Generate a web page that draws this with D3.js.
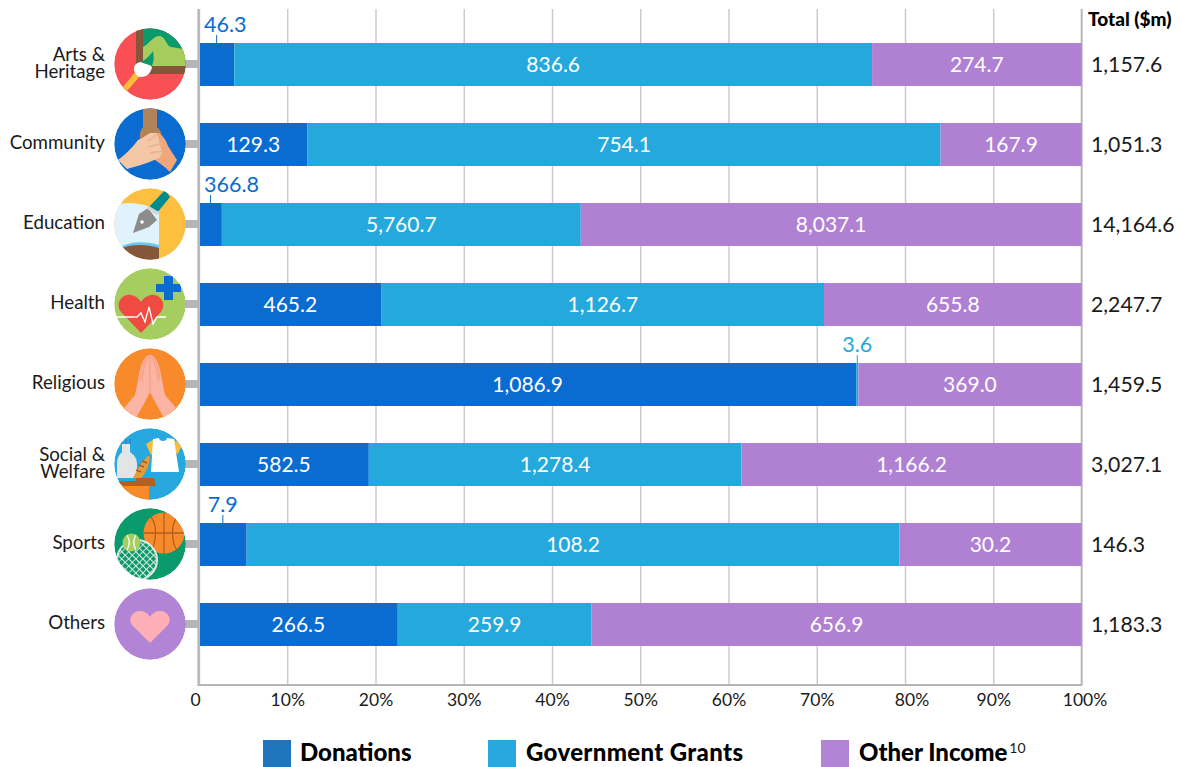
<!DOCTYPE html>
<html><head><meta charset="utf-8">
<script src="https://cdnjs.cloudflare.com/ajax/libs/d3/7.8.5/d3.min.js"></script>
<style>
html,body{margin:0;padding:0;background:#fff}
svg{display:block}
text{font-family:Lato,"Noto Sans",sans-serif}
</style></head><body>
<svg id="c" width="1182" height="767"></svg>
<script>
const categories=["Arts & Heritage","Community","Education","Health","Religious","Social & Welfare","Sports","Others"];
const donations=[46.3,129.3,366.8,465.2,1086.9,582.5,7.9,266.5];
const grants=[836.6,754.1,5760.7,1126.7,3.6,1278.4,108.2,259.9];
const other=[274.7,167.9,8037.1,655.8,369.0,1166.2,30.2,656.9];
const totals=["1,157.6","1,051.3","14,164.6","2,247.7","1,459.5","3,027.1","146.3","1,183.3"];
const seriesNames=["Donations","Government Grants","Other Income"];
const tickValues=[0,.1,.2,.3,.4,.5,.6,.7,.8,.9,1];

const C={don:"#0a6bd1",gov:"#25a8dc",oth:"#b081d2",axis:"#b5b5b5",grid:"#c9c9c9",ink:"#1a1a1a"};
const svg=d3.select("#c");
const x=d3.scaleLinear().domain([0,1]).range([199,1081.5]);
const yBand=d3.scalePoint().domain(categories).range([64.5,624.5]);
const barH=43;
const rows=categories.map((c,i)=>({cat:c,Donations:donations[i],"Government Grants":grants[i],"Other Income":other[i]}));
const stack=d3.stack().keys(seriesNames).offset(d3.stackOffsetExpand)(rows);
const colors=d3.scaleOrdinal().domain(seriesNames).range([C.don,C.gov,C.oth]);
const fmt=d3.format(",.1f");

// grid + axis
const axisG=svg.append("g").attr("transform","translate(0,685)")
 .call(d3.axisBottom(x).tickValues(tickValues).tickSize(676).tickSizeOuter(0)
   .tickFormat(d=>d===0?"0":d3.format(".0%")(d)));
axisG.select(".domain").remove();
axisG.selectAll("line").attr("y2",-676).attr("stroke",C.grid).attr("stroke-width",1.4);
const nudge={0:-4,0.8:6.5,1:3};
axisG.selectAll("text").attr("y",0).attr("dy",0)
 .attr("transform",d=>`translate(${nudge[d]||0},21)`)
 .attr("font-size",17.5).attr("fill",C.ink).style("font-family","Lato");
svg.append("line").attr("x1",x(0)-.5).attr("x2",x(0)-.5).attr("y1",9).attr("y2",686).attr("stroke",C.axis).attr("stroke-width",2.2);
svg.append("line").attr("x1",x(0)-1).attr("x2",x(1)+.5).attr("y1",685).attr("y2",685).attr("stroke",C.axis).attr("stroke-width",2);
svg.append("line").attr("x1",x(1)).attr("x2",x(1)).attr("y1",9).attr("y2",686).attr("stroke",C.axis).attr("stroke-width",1.6);

// connectors
svg.append("g").selectAll("rect").data(categories).join("rect")
 .attr("x",185).attr("width",13).attr("y",d=>yBand(d)-4.5).attr("height",8).attr("fill",C.axis);

// bars
const gS=svg.append("g").selectAll("g").data(stack).join("g").attr("fill",d=>colors(d.key));
gS.selectAll("rect").data(d=>d).join("rect")
 .attr("x",d=>Math.max(x(d[0]),200)).attr("width",d=>x(d[1])-Math.max(x(d[0]),200))
 .attr("y",d=>yBand(d.data.cat)-barH/2).attr("height",barH);

// labels
stack.forEach(s=>{
 s.forEach(d=>{
  const val=d.data[s.key], mid=x((d[0]+d[1])/2), yc=yBand(d.data.cat);
  if(d[1]-d[0]>=0.06){
   svg.append("text").attr("x",mid).attr("y",yc+7.5).attr("text-anchor","middle")
    .attr("font-size",21).attr("fill","#fff").text(fmt(val));
  } else {
   const col=s.key==="Donations"?C.don:C.gov;
   const t=svg.append("text").attr("y",yc-33).attr("text-anchor","middle")
    .attr("font-size",21.5).attr("fill",col).text(fmt(val));
   t.attr("x",mid);
   const w=t.node().getComputedTextLength();
   t.attr("x",Math.max(mid,204+w/2));
   svg.append("line").attr("x1",mid).attr("x2",mid).attr("y1",yc-29.5).attr("y2",yc-21.5)
    .attr("stroke",col).attr("stroke-width",1);
  }
 });
});

// totals
svg.append("text").attr("x",1088).attr("y",26).attr("font-size",19).attr("font-weight",900).attr("fill","#000").text("Total ($m)");
svg.append("g").selectAll("text").data(totals).join("text")
 .attr("x",1091).attr("y",(d,i)=>yBand(categories[i])+7.5).attr("font-size",21.2).attr("fill",C.ink).text(d=>d);

// category labels
categories.forEach(c=>{
 const yc=yBand(c);
 const m=c.match(/^(.*&) (.*)$/);
 const lines=m?[m[1],m[2]]:[c];
 const t=svg.append("text").attr("text-anchor","end").attr("font-size",18.7).attr("fill",C.ink);
 lines.forEach((l,i)=>t.append("tspan").attr("x",105)
   .attr("y",lines.length>1?yc-4+i*17:yc+4).text(l));
});

// legend
const legendX=[263,488,821], legendT=[300,526,859];
seriesNames.forEach((n,i)=>{
 svg.append("rect").attr("x",legendX[i]).attr("y",740).attr("width",28).attr("height",27)
  .attr("fill",["#1f74bd","#27a9e0","#b284d6"][i]);
 const t=svg.append("text").attr("x",legendT[i]).attr("y",761).attr("font-size",24).attr("font-weight",900).attr("fill","#000")
   .style("letter-spacing",i===1?"0.35px":null).text(n);
 if(i===2){
  svg.append("text").attr("x",legendT[i]+t.node().getComputedTextLength()+2).attr("y",753).attr("font-size",14).attr("fill",C.ink).text("10");
 }
});

// ---- decorative icons (local coordinates around the circle centre) ----
const defs=svg.append("defs");
defs.append("clipPath").attr("id","disc").append("circle").attr("r",35.7);
const pat=defs.append("pattern").attr("id","net").attr("width",5).attr("height",5).attr("patternUnits","userSpaceOnUse").attr("patternTransform","rotate(45)");
pat.append("rect").attr("width",5).attr("height",5).attr("fill","#0a9a6b");
pat.append("path").attr("d","M0 0H5M0 0V5").attr("stroke","#dfe9e4").attr("stroke-width",1.8);

function P(g,d,f,extra){const p=g.append("path").attr("d",d).attr("fill",f||"none");if(extra)Object.entries(extra).forEach(([k,v])=>p.attr(k,v));return p;}
function Ci(g,cx,cy,r,f,extra){const p=g.append("circle").attr("cx",cx).attr("cy",cy).attr("r",r).attr("fill",f||"none");if(extra)Object.entries(extra).forEach(([k,v])=>p.attr(k,v));return p;}
const icons={
 "Arts & Heritage":g=>{
  Ci(g,0,0,36,"#f94f55");
  P(g,"M-7 -36H36V3H-7Z","#0a9a6b");
  P(g,"M-7 -17C-1 -20 4 -29 10 -28C16 -27 16 -18 21 -17C26 -16 30 -16 36 -14V3H-7Z","#a5cc5c");
  P(g,"M-14 -36H-7V3H-14Z","#85563a");
  P(g,"M-8 2H36V10H-8Z","#85563a");
  P(g,"M-27 23L-23 27L-9 11L-14 7Z","#fdbb3a");
  P(g,"M-16 5C-16 -1 -10 -3 -4 -2L2 3C1 9 -3 13 -9 13C-13 13 -16 9 -16 5Z","#fff");
  P(g,"M-10 -2C-6 -3 -2 -6 3 -13C4 -8 4 -3 2 2C-3 0 -7 -1 -10 -2Z","#0a9a6b");
 },
 "Community":g=>{
  Ci(g,0,0,36,"#0a6bd1");
  P(g,"M-7 -36H7V-17C12 -12 13 -8 11 -2L-8 0C-11 -6 -11 -12 -7 -17Z","#b18358");
  P(g,"M27 16L20 28C14 22 8 18 2 14L8 -12C13 -8 16 -4 18 2Z","#f0a77c");
  P(g,"M-32 16C-24 10 -18 4 -12 -4L-8 -6L0 -11L7 -11L10 0L12 8L10 13C2 18 -12 22 -23 25Z","#f4c8a6");
  P(g,"M-3 -3L7 -9M-2 3L13 -1M0 9L13 7","none",{stroke:"#e8b28a","stroke-width":1.4});
 },
 "Education":g=>{
  Ci(g,0,0,36,"#fdbf40");
  P(g,"M-36 -18C-22 -24 -6 -20 9 -14V26H-36Z","#e0f2fb");
  P(g,"M-30 24C-20 19 -4 19 9 23V36H-30Z","#85563a");
  P(g,"M-30 23C-20 17 -4 17 9 21V24C-4 20 -20 20 -30 25Z","#6cc7ee");
  P(g,"M-17 9L-11 -10L-2 -16L7 -4L-1 3Z","#8c8c8c");
  P(g,"M-2 -16L15 -34L20 -27L7 -11Z","#008c8c");
  P(g,"M-3 -15L-1 -18L9 -12L7 -9Z","#cfd4d4");
  Ci(g,-8,-2,1.8,"#fff");
 },
 "Health":g=>{
  Ci(g,0,0,36,"#a6cd5f");
  P(g,"M-9 29L-29 8C-36 -2 -26 -12 -17 -8.5C-13 -7 -10 -4 -9 -2C-8 -4 -5 -7 -1 -8.5C8 -12 18 -2 11 8Z","#ef4b43");
  P(g,"M-33 13H-13L-9 9L-5 18L-1 3L3 20L7 13H16","none",{stroke:"#fff","stroke-width":1.3});
  P(g,"M14 -28H23V-20H31V-12H23V-4H14V-12H6V-20H14Z","#0a6bd1");
 },
 "Religious":g=>{
  Ci(g,0,0,36,"#f98a2c");
  P(g,"M0 -29C-7 -29 -10 -16 -12 -4L-15 11L-26 24L-14 34L-4 16L0 8Z","#fcb5a5");
  P(g,"M0 -29C7 -29 10 -16 12 -4L15 11L26 24L14 34L4 16L0 8Z","#fcb5a5");
  P(g,"M-2 -27C-5 -20 -7 -14 -8 -2M-4 -27C-7 -20 -9 -14 -10 -4M2 -27C5 -20 7 -14 8 -2M4 -27C7 -20 9 -14 10 -4M0 -28V8","none",{stroke:"#f79a80","stroke-width":1});
 },
 "Social & Welfare":g=>{
  Ci(g,0,0,36,"#27a9e0");
  P(g,"M-36 22H-1V36H-36Z","#f98a2c");
  P(g,"M-34 17H-14V14H4L6 22H-26Z","#b5601e");
  P(g,"M-28 -20H-20V-12C-16 -9 -13 -6 -13 0V14H-33V0C-33 -6 -31 -9 -28 -12Z","#e3e4e6");
  P(g,"M-28 -25V-20M-24 -25V-20M-20 -25V-20","none",{stroke:"#3a78c9","stroke-width":1.3});
  P(g,"M-17 14C-13 6 -8 -3 -2 -8C1 -9 0 -3 -2 2C-4 8 -6 11 -9 14Z","#e99a38");
  P(g,"M-14 6L-9 8M-11 1L-6 3M-8 -3L-3 -1","none",{stroke:"#a65f22","stroke-width":1.6});
  P(g,"M3 -24L-4 -20L1 -9L7 -12ZM24 -24L32 -19L28 -10L22 -13Z","#fdbb3a");
  P(g,"M3 -25L9 -26C9 -22 17 -22 17 -26L24 -25L29 8H1Z","#fff");
 },
 "Sports":g=>{
  Ci(g,0,0,36,"#0a9a6b");
  Ci(g,14,-11,20.5,"#f98a2c");
  P(g,"M14 -31.5V9.5M-6.5 -11H34.5M1 -27C7 -20 7 -2 1 6M27 -27C21 -20 21 -2 27 6","none",{stroke:"#b35e1f","stroke-width":1.3});
  Ci(g,-13,16,20,"url(#net)",{stroke:"#dfe9e4","stroke-width":2});
  Ci(g,-18.5,-1.5,9,"#a6cd5f");
  P(g,"M-23 -9C-20 -4 -20 1 -23 6M-14 -9C-17 -4 -17 1 -14 6","none",{stroke:"#fff","stroke-width":1.2});
 },
 "Others":g=>{
  Ci(g,0,0,36,"#b284d6");
  P(g,"M0 19L-17 2C-24 -6 -16 -14 -9 -13C-4 -12.5 -1 -9 0 -7C1 -9 4 -12.5 9 -13C16 -14 24 -6 17 2Z","#fdaeb6");
 }
};
categories.forEach(c=>{
 const g=svg.append("g").attr("transform",`translate(150,${yBand(c)-0.5})`).append("g").attr("clip-path","url(#disc)");
 icons[c](g);
});
</script>
</body></html>
